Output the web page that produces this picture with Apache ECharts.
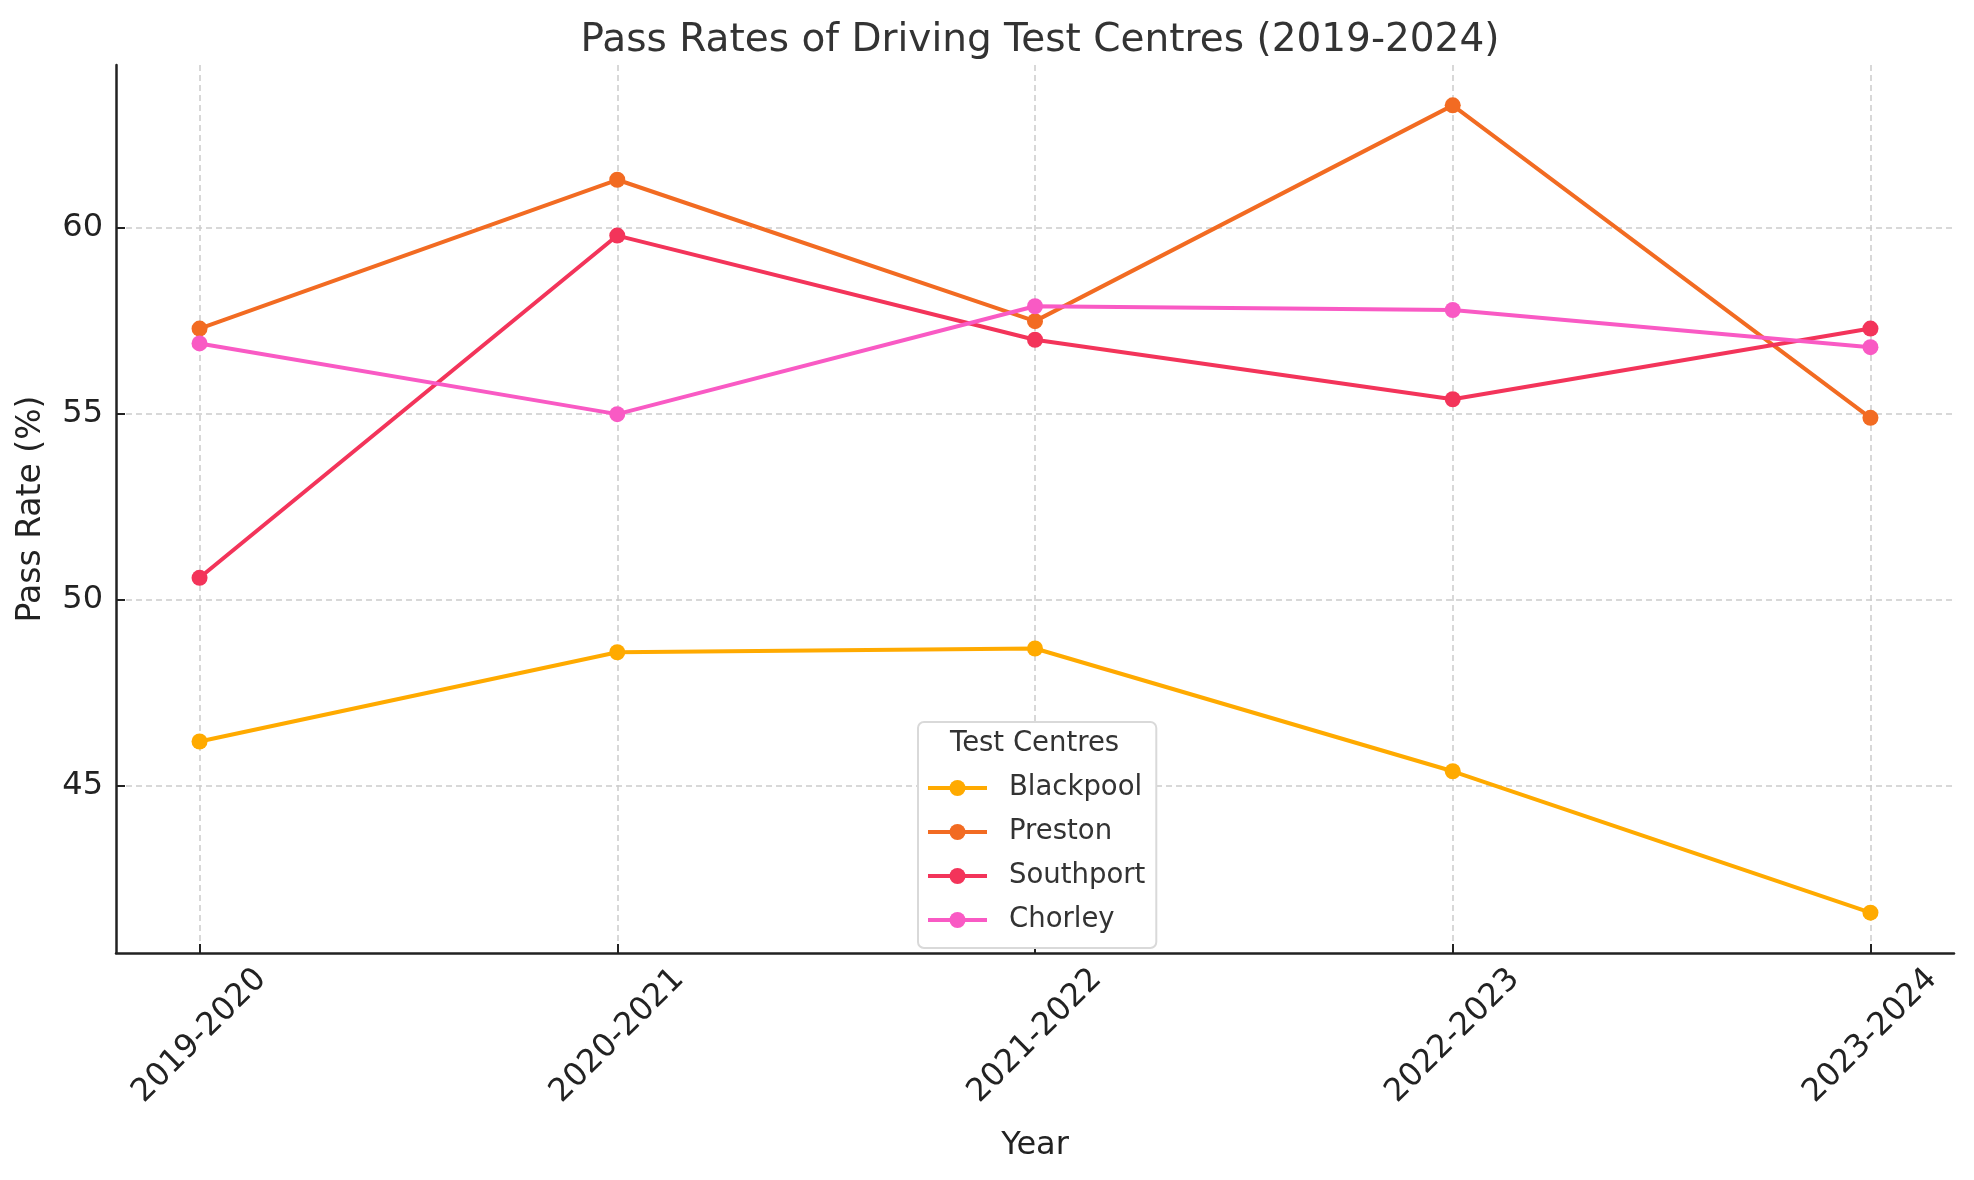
<!DOCTYPE html>
<html>
<head>
<meta charset="utf-8">
<script src="https://cdn.jsdelivr.net/npm/echarts@6/dist/echarts.min.js"></script>
<style>
html,body{margin:0;padding:0;background:#fff;}
#chart{width:1974px;height:1180px;}
</style>
</head>
<body>
<div id="chart"></div>
<script>
const years = ['2019-2020', '2020-2021', '2021-2022', '2022-2023', '2023-2024'];
const blackpool = [46.2, 48.6, 48.7, 45.4, 41.6];
const preston = [57.3, 61.3, 57.5, 63.3, 54.9];
const southport = [50.6, 59.8, 57.0, 55.4, 57.3];
const chorley = [56.9, 55.0, 57.9, 57.8, 56.8];
const yTicks = [45, 50, 55, 60];
const xTicks = [0, 1, 2, 3, 4];

const seriesDefs = [
  { name: 'Blackpool', data: blackpool, color: '#FFAA00' },
  { name: 'Preston', data: preston, color: '#F26B22' },
  { name: 'Southport', data: southport, color: '#F3345A' },
  { name: 'Chorley', data: chorley, color: '#F95AC4' }
];

const FONT = 'DejaVu Sans';
const chart = echarts.init(document.getElementById('chart'));
chart.setOption({
  animation: false,
  backgroundColor: '#ffffff',
  textStyle: { fontFamily: FONT },
  title: [{
    text: 'Pass Rates of Driving Test Centres (2019-2024)',
    left: 1035, top: 16, textAlign: 'center',
    textStyle: { fontFamily: FONT, fontSize: 39, fontWeight: 'normal', color: '#333333' }
  }],
  grid: { left: 116, right: 20, top: 65, bottom: 1180 - 953, containLabel: false },
  xAxis: {
    type: 'value', min: -0.2, max: 4.2,
    name: 'Year', nameLocation: 'middle', nameGap: 177,
    nameTextStyle: { fontFamily: FONT, fontSize: 32, color: '#222222' },
    axisLine: { show: true, onZero: false, lineStyle: { color: '#222222', width: 2.5 } },
    axisTick: { show: true, inside: true, length: 9, customValues: xTicks, lineStyle: { color: '#222222', width: 2 } },
    axisLabel: {
      customValues: xTicks, rotate: 45, align: 'center', verticalAlign: 'middle', margin: 83,
      fontFamily: FONT, fontSize: 32, color: '#222222',
      formatter: v => years[Math.round(v)]
    },
    splitLine: { show: true, customValues: xTicks, lineStyle: { color: '#cccccc', type: [6, 4], width: 1.5 } }
  },
  yAxis: {
    type: 'value', min: 40.515, max: 64.385,
    name: 'Pass Rate (%)', nameLocation: 'middle', nameGap: 68, nameRotate: 90,
    nameTextStyle: { fontFamily: FONT, fontSize: 33, color: '#222222' },
    axisLine: { show: true, onZero: false, lineStyle: { color: '#222222', width: 2.5 } },
    axisTick: { show: true, inside: true, length: 9, customValues: yTicks, lineStyle: { color: '#222222', width: 2 } },
    axisLabel: { customValues: yTicks, margin: 13, fontFamily: FONT, fontSize: 32, color: '#222222' },
    splitLine: { show: true, customValues: yTicks, lineStyle: { color: '#cccccc', type: [6, 4], width: 1.5 } }
  },
  legend: {
    orient: 'vertical', left: 918, top: 722,
    padding: [52, 11, 14, 8],
    itemWidth: 59, itemHeight: 20, itemGap: 16,
    borderColor: '#d9d9d9', borderWidth: 2, borderRadius: 6, backgroundColor: '#ffffff',
    lineStyle: { width: 4 },
    textStyle: { fontFamily: FONT, fontSize: 27.5, color: '#333333', lineHeight: 26, padding: [0, 0, 0, 17] },
    data: seriesDefs.map(s => s.name)
  },
  graphic: [{
    type: 'text', left: 950, top: 730, z: 100,
    style: { text: 'Test Centres', fontFamily: FONT, fontSize: 27.5, fill: '#333333' }
  }],
  series: seriesDefs.map(s => ({
    name: s.name, type: 'line',
    data: s.data.map((v, i) => [xTicks[i], v]),
    symbol: 'circle', symbolSize: 16,
    itemStyle: { color: s.color },
    lineStyle: { color: s.color, width: 4 },
    emphasis: { disabled: true }
  }))
});
</script>
</body>
</html>
